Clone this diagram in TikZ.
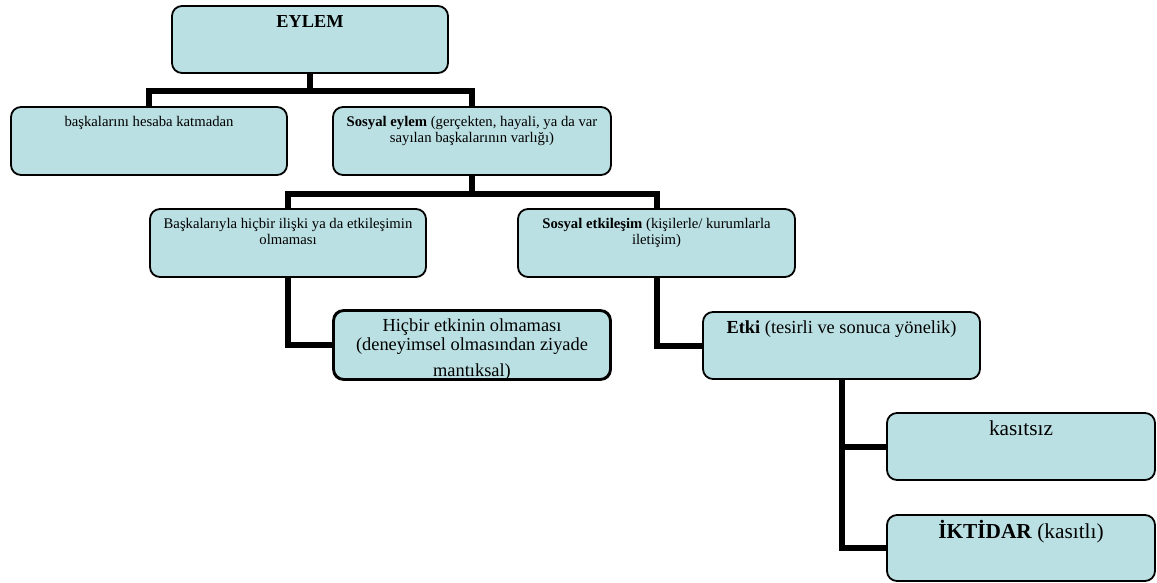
\documentclass[tikz,border=0pt]{standalone}
\usepackage{fontspec}
\setmainfont{Liberation Serif}
\usetikzlibrary{backgrounds}
\definecolor{boxfill}{HTML}{BBE0E3}
\tikzset{
  box/.style={draw=black, line width=1.8pt, fill=boxfill, rounded corners=10pt, inner sep=0pt},
  conn/.style={draw=black, line width=6pt},
  txt/.style={anchor=north, inner sep=0pt, align=center, text=black},
  txtb/.style={anchor=base, inner sep=0pt, text=black},
  small/.style={font=\fontsize{14.7}{15.8}\selectfont},
  large/.style={font=\fontsize{18.4}{19.4}\selectfont},
  big/.style={font=\fontsize{21.3}{23}\selectfont},
}
\newcommand{\mkbox}[5]{%
  \node[box, minimum width=#4-#2, minimum height=#5-#3] (#1) at ({(#2+#4)/2},{(#3+#5)/2}) {};}
\begin{document}
\begin{tikzpicture}[x=1pt,y=-1pt]
\useasboundingbox (0,0) rectangle (1157,583);
% boxes (name, left, top, right, bottom)
\mkbox{eylem}{172}{6}{448}{73}
\mkbox{bask}{11}{107}{287}{175}
\mkbox{sosyal}{333}{107}{611}{175}
\mkbox{iliski}{150}{209}{426}{277}
\mkbox{etkilesim}{518}{209}{795}{277}
\mkbox{hicbir}{334}{311}{610}{379}
\mkbox{etki}{703}{312}{980}{379}
\mkbox{kasitsiz}{887}{413}{1155}{480}
\mkbox{iktidar}{887}{515}{1155}{581}
% connectors
\begin{scope}[on background layer]
\draw[conn] (eylem.south) -- ++(0,17) -| (bask.north);
\draw[conn] (eylem.south) -- ++(0,17) -| (sosyal.north);
\draw[conn] (sosyal.south) -- ++(0,18) -| (iliski.north);
\draw[conn] (sosyal.south) -- ++(0,18) -| (etkilesim.north);
\draw[conn] (iliski.south) |- (hicbir.west);
\draw[conn] (etkilesim.south) |- (etki.west);
\draw[conn] (etki.south) |- (kasitsiz.west);
\draw[conn] (etki.south) |- (iktidar.west);
\end{scope}
% texts
\node[txtb, font=\fontsize{18.3}{20}\selectfont\bfseries] (t1) at ([yshift=-22pt]eylem.north) {EYLEM};
\node[txtb, small] (t2) at ([yshift=-20pt]bask.north) {başkalarını hesaba katmadan};
\node[txt, small] (t3) at ([yshift=-10.3pt]sosyal.north) {\textbf{Sosyal eylem} (gerçekten, hayali, ya da var\\sayılan başkalarının varlığı)};
\node[txt, small] (t4) at ([yshift=-10.3pt]iliski.north) {Başkalarıyla hiçbir ilişki ya da etkileşimin\\olmaması};
\node[txt, small] (t5) at ([yshift=-10.3pt]etkilesim.north) {\textbf{Sosyal etkileşim} (kişilerle/ kurumlarla\\iletişim)};
\begin{scope}
\clip[rounded corners=10pt] (hicbir.north west) rectangle (hicbir.south east);
\node[txt, large] (t6) at ([yshift=-8.5pt]hicbir.north) {Hiçbir etkinin olmaması\\(deneyimsel olmasından ziyade\\[6pt]mantıksal)};
\end{scope}
\draw[draw=black, line width=1.8pt, rounded corners=10pt] (hicbir.north west) rectangle (hicbir.south east);
\node[txtb, large] (t7) at ([yshift=-22pt]etki.north) {\textbf{Etki} (tesirli ve sonuca yönelik)};
\node[txtb, big] (t8) at ([yshift=-23.7pt]kasitsiz.north) {kasıtsız};
\node[txtb, big] (t9) at ([yshift=-24.3pt]iktidar.north) {\textbf{İKTİDAR} (kasıtlı)};
\end{tikzpicture}
\end{document}
